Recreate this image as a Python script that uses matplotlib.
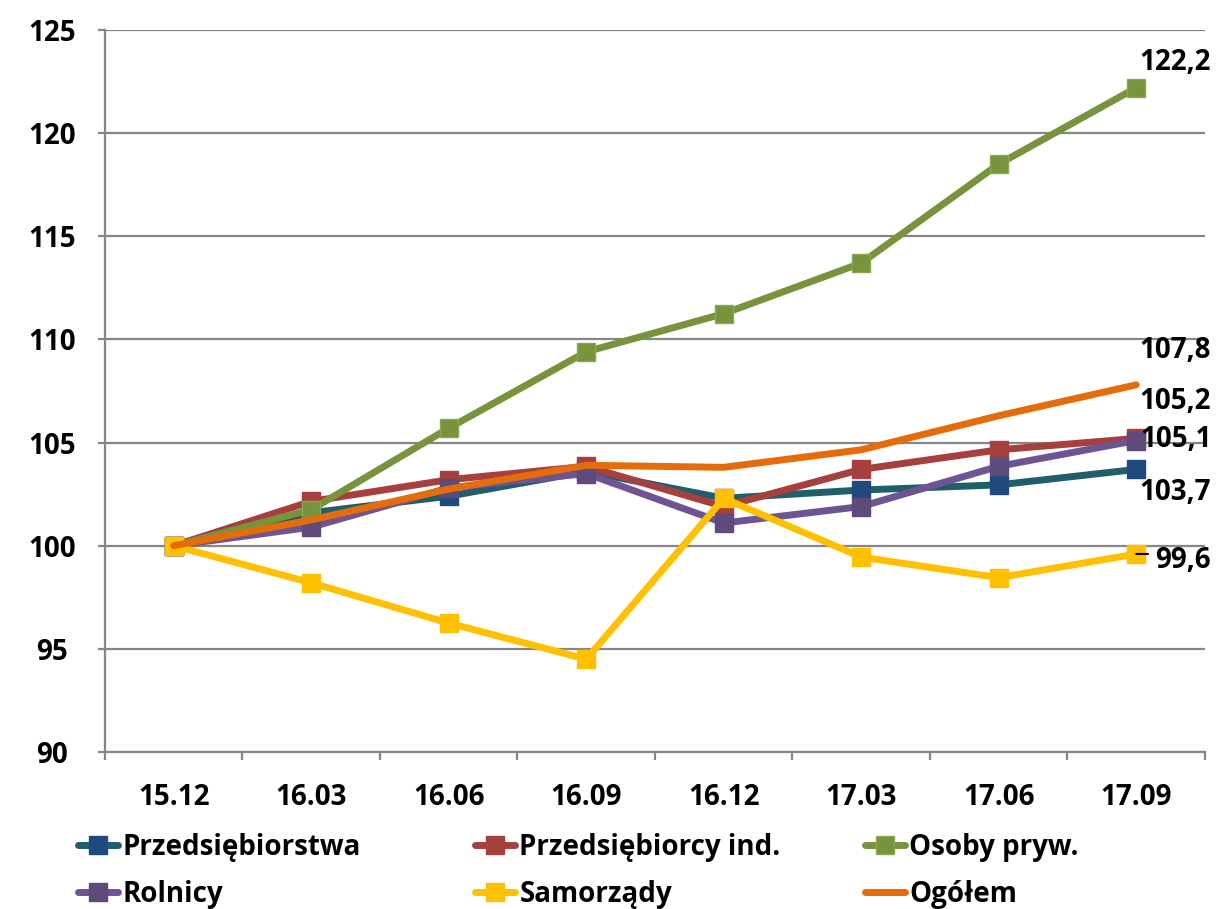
import matplotlib
matplotlib.use("Agg")
import matplotlib.pyplot as plt

plt.rcParams['font.family'] = ['Open Sans', 'DejaVu Sans']
plt.rcParams['font.weight'] = 'bold'

quarters = ["15.12", "16.03", "16.06", "16.09", "16.12", "17.03", "17.06", "17.09"]

przedsiebiorstwa = [100, 101.6, 102.4, 103.6, 102.3, 102.7, 102.95, 103.7]
przedsiebiorcy_ind = [100, 102.15, 103.2, 103.85, 101.9, 103.7, 104.65, 105.2]
osoby_pryw = [100, 101.75, 105.7, 109.4, 111.25, 113.7, 118.5, 122.2]
rolnicy = [100, 100.9, 102.8, 103.5, 101.1, 101.9, 103.85, 105.1]
samorzady = [100, 98.2, 96.25, 94.5, 102.3, 99.45, 98.45, 99.6]
ogolem = [100, 101.25, 102.75, 103.9, 103.8, 104.65, 106.3, 107.8]

series_names = ["Przedsiębiorstwa", "Przedsiębiorcy ind.", "Osoby pryw.",
                "Rolnicy", "Samorządy", "Ogółem"]

fig = plt.figure(figsize=(12.18, 9.09), dpi=100)
ax = fig.add_axes([0.0862, 0.1727, 0.9031, 0.7943])

x = list(range(len(quarters)))

styles = [
    (przedsiebiorstwa, "#215E6C", "#1F4A7D", "#1F4A7D"),
    (przedsiebiorcy_ind, "#A5403E", "#A5403E", "#A5403E"),
    (osoby_pryw, "#77933C", "#77933C", "#8AA84E"),
    (rolnicy, "#6F5494", "#5E4A7B", "#5E4A7B"),
    (samorzady, "#FFC000", "#FFC000", "#FFC000"),
]

LW = 5.0
handles = []
for (vals, lc, mfc, mec), name in zip(styles, series_names[:5]):
    h, = ax.plot(x, vals, color=lc, lw=LW, marker="s", markersize=13,
                 markerfacecolor=mfc, markeredgecolor=mec, markeredgewidth=1.0,
                 label=name, solid_capstyle="round", solid_joinstyle="round")
    handles.append(h)
h, = ax.plot(x, ogolem, color="#E46C0A", lw=LW, label=series_names[5],
             solid_capstyle="round", solid_joinstyle="round")
handles.append(h)

ax.set_xlim(-0.5, len(quarters) - 0.5)
ax.set_ylim(90, 125)
ax.set_yticks(range(90, 126, 5))
ax.set_xticks(x)
ax.set_xticklabels(quarters)
ax.set_xticks([i + 0.5 for i in range(-1, len(quarters))], minor=True)

grid_c = "#868686"
ax.yaxis.grid(True, color=grid_c, lw=1.6)
ax.set_axisbelow(True)
for s in ["top", "right"]:
    ax.spines[s].set_visible(False)
for s in ["left", "bottom"]:
    ax.spines[s].set_color(grid_c)
    ax.spines[s].set_linewidth(1.6)

ax.tick_params(axis="y", length=5, width=1.6, color=grid_c, labelsize=20, pad=33)
ax.tick_params(axis="x", which="major", length=0, labelsize=20, pad=22)
ax.tick_params(axis="x", which="minor", length=6, width=1.6, color=grid_c)
for lbl in ax.get_yticklabels():
    lbl.set_horizontalalignment("center")

# end-of-series value labels
last = len(quarters) - 1
lab_kw = dict(textcoords="offset points", ha="center", va="center_baseline",
              fontsize=20, fontweight="bold", color="black")


def fmt(v):
    return f"{v:.1f}".replace(".", ",")


ax.annotate(fmt(osoby_pryw[-1]), (last, osoby_pryw[-1]), xytext=(28, 21), **lab_kw)
ax.annotate(fmt(ogolem[-1]), (last, ogolem[-1]), xytext=(28, 27.4), **lab_kw)
ax.annotate(fmt(przedsiebiorcy_ind[-1]), (last, przedsiebiorcy_ind[-1]),
            xytext=(28, 28.8), **lab_kw)
ax.annotate(fmt(rolnicy[-1]), (last, rolnicy[-1]), xytext=(28.8, 2.9), **lab_kw)
ax.annotate(fmt(przedsiebiorstwa[-1]), (last, przedsiebiorstwa[-1]),
            xytext=(28, -14.4), **lab_kw)

# Samorządy label with a short horizontal leader to its marker
ax.annotate(fmt(samorzady[-1]), (last, samorzady[-1]),
            xytext=(13.7, -2), ha="left", va="center_baseline",
            textcoords="offset points", fontsize=20, fontweight="bold",
            color="black")
ax.annotate("", (last, samorzady[-1]), xytext=(8.5, 0),
            textcoords="offset points",
            arrowprops=dict(arrowstyle="-", color="black", lw=1.5,
                            shrinkA=0, shrinkB=0))

# legend: three equal-width columns, two rows
col_x = [78 / 1218, 475 / 1218, 865 / 1218]
for c in range(3):
    pair = [handles[c], handles[c + 3]]
    fig.legend(handles=pair, loc="upper left",
               bbox_to_anchor=(col_x[c], 0.0836), frameon=False,
               prop={"size": 20, "weight": "bold"}, borderpad=0,
               borderaxespad=0,
               handlelength=1.45, handletextpad=0.15,
               labelspacing=0.65)

fig.savefig("out.png", dpi=100, facecolor="white")
